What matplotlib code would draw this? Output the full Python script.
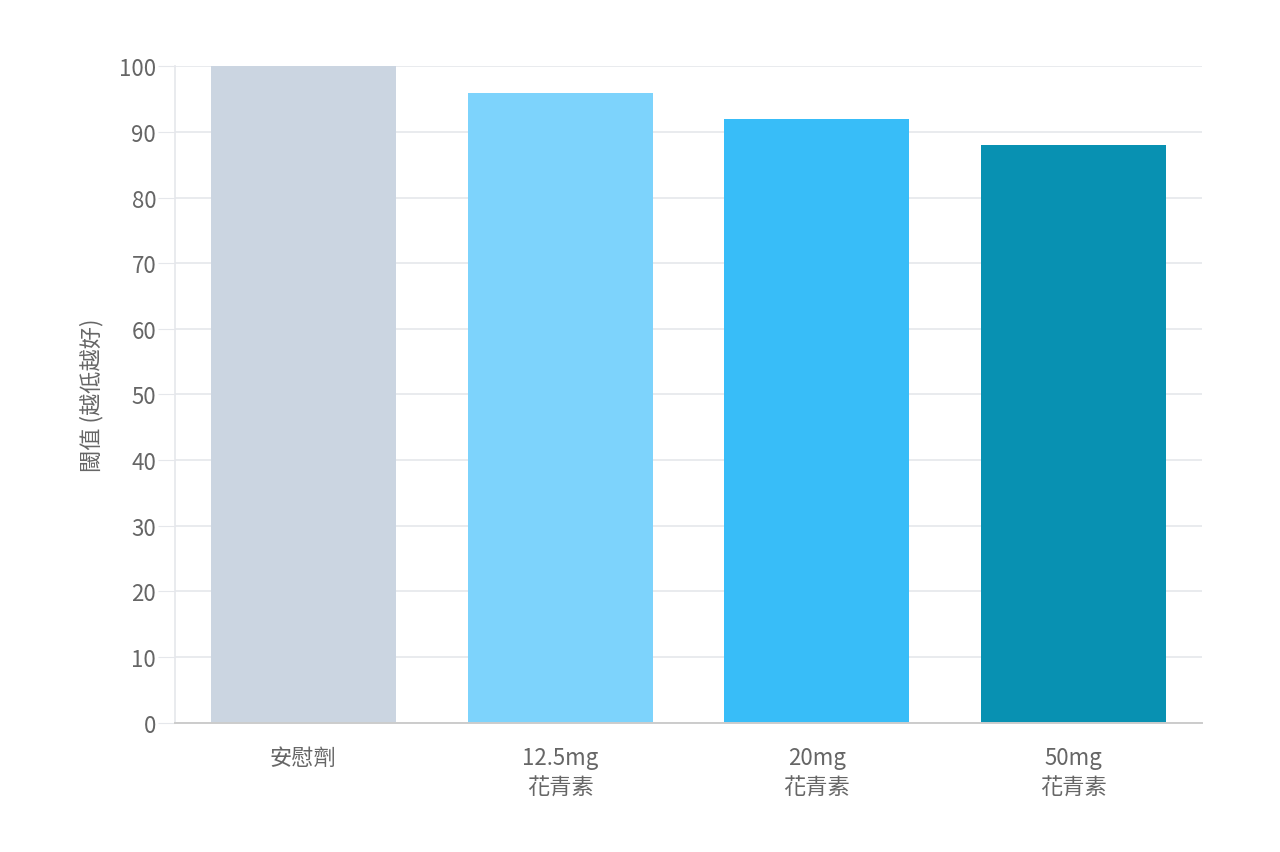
import matplotlib
matplotlib.use('Agg')
import matplotlib.pyplot as plt

# data
categories = ['安慰劑', '12.5mg\n花青素', '20mg\n花青素', '50mg\n花青素']
thresholds = [100, 96, 92, 88]
bar_colors = ['#cbd5e1', '#7dd3fc', '#38bdf8', '#0891b2']
y_ticks = list(range(0, 101, 10))

plt.rcParams['font.family'] = ['Noto Sans CJK TC', 'DejaVu Sans']

fig = plt.figure(figsize=(12.8, 8.53), dpi=100)
ax = fig.add_axes([0.1367, 0.1518, 0.8023, 0.7691])

x = range(len(categories))
ax.bar(x, thresholds, width=0.72, color=bar_colors, zorder=2)

ax.set_xlim(-0.5, len(categories) - 0.5)
ax.set_ylim(0, 100)
ax.set_yticks(y_ticks)
ax.set_xticks(list(x))
ax.set_xticklabels(categories, linespacing=1.35)

text_color = '#666666'
ax.tick_params(axis='y', length=12, color='#e5e7eb', labelsize=16,
               labelcolor=text_color, pad=1.5)
ax.tick_params(axis='x', length=0, labelsize=16, labelcolor=text_color, pad=17)

ax.grid(axis='y', color='#e5e7eb', linewidth=1.2, zorder=0)
ax.set_axisbelow(True)

for side in ['top', 'right']:
    ax.spines[side].set_visible(False)
ax.spines['left'].set_color('#e5e7eb')
ax.spines['left'].set_linewidth(1.2)
ax.spines['bottom'].set_color('#cccccc')
ax.spines['bottom'].set_linewidth(1.4)

ax.set_ylabel('閾值 (越低越好)', fontsize=16, color=text_color, labelpad=11)

fig.savefig('out.png', dpi=100)
